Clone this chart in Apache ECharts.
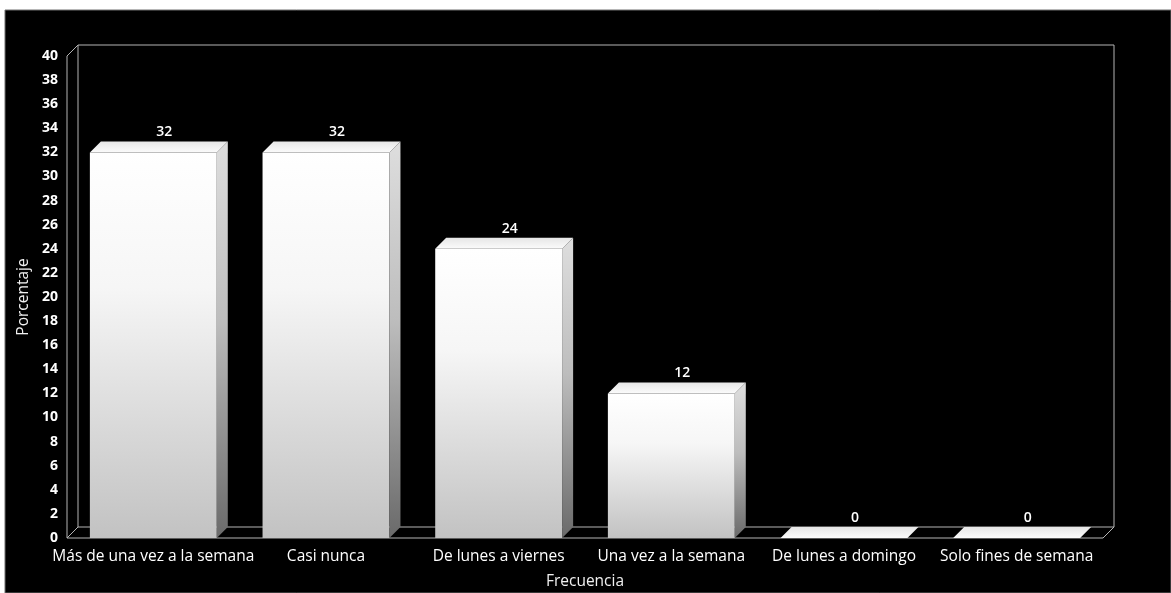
<!DOCTYPE html>
<html>
<head>
<meta charset="utf-8">
<script src="https://cdn.jsdelivr.net/npm/echarts@6/dist/echarts.min.js"></script>
<style>
  html, body { margin: 0; padding: 0; background: #ffffff; }
  #chart { width: 1171px; height: 593px; }
</style>
</head>
<body>
<div id="chart"></div>
<script>
// Frecuencia de uso, en porcentaje
const categories = [
  'Más de una vez a la semana',
  'Casi nunca',
  'De lunes a viernes',
  'Una vez a la semana',
  'De lunes a domingo',
  'Solo fines de semana'
];
const values = [32, 32, 24, 12, 0, 0];
const yMin = 0, yMax = 40, yStep = 2;

const DEPTH = 11;          // oblique depth of the 3D boxes, px
const BAR_RATIO = 0.735;   // front face width relative to the category band
const FONT = '"Open Sans", "DejaVu Sans", sans-serif';
const LINE = '#b4b4b4';

const chart = echarts.init(document.getElementById('chart'));

function lin(x1, y1, x2, y2) {
  return { type: 'line', shape: { x1, y1, x2, y2 }, style: { stroke: LINE, lineWidth: 1 } };
}

// back wall, left wall edge and floor of the 3D box
function renderFrame(params, api) {
  const n = categories.length;
  const p0 = api.coord([0, yMin]);
  const pTop = api.coord([0, yMax]);
  const band = api.size([1, 0])[0];
  const x0 = p0[0] - band / 2;
  const x1 = x0 + band * n;
  const yb = p0[1], yt = pTop[1];
  const d = DEPTH;
  return {
    type: 'group',
    children: [
      // front-left edge and floor front edge
      lin(x0, yt, x0, yb),
      lin(x0, yb, x1, yb),
      // diagonals
      lin(x0, yt, x0 + d, yt - d),
      lin(x0, yb, x0 + d, yb - d),
      lin(x1, yb, x1 + d, yb - d),
      // back wall
      lin(x0 + d, yt - d, x1 + d, yt - d),
      lin(x0 + d, yt - d, x0 + d, yb - d),
      lin(x1 + d, yt - d, x1 + d, yb - d),
      lin(x0 + d, yb - d, x1 + d, yb - d)
    ]
  };
}

function renderBar(params, api) {
  const i = api.value(0), v = api.value(1);
  const base = api.coord([i, 0]);
  const top = api.coord([i, v]);
  const bw = api.size([1, 0])[0] * BAR_RATIO;
  const l = base[0] - bw / 2, r = base[0] + bw / 2;
  const yb = base[1], yt = top[1];
  const d = DEPTH;
  const children = [];
  if (yb - yt > 0.5) {
    children.push({
      type: 'rect',
      shape: { x: l, y: yt, width: bw, height: yb - yt },
      style: {
        fill: new echarts.graphic.LinearGradient(0, 0, 0, 1, [
          { offset: 0, color: '#ffffff' },
          { offset: 0.35, color: '#f6f6f6' },
          { offset: 1, color: '#c2c2c2' }
        ])
      }
    });
    children.push({
      type: 'polygon',
      shape: { points: [[r, yt], [r + d, yt - d], [r + d, yb - d], [r, yb]] },
      style: {
        fill: new echarts.graphic.LinearGradient(0, 0, 0, 1, [
          { offset: 0, color: '#dedede' },
          { offset: 0.45, color: '#bdbdbd' },
          { offset: 1, color: '#6a6a6a' }
        ])
      }
    });
  }
  children.push({
    type: 'polygon',
    shape: { points: [[l, yt], [l + d, yt - d], [r + d, yt - d], [r, yt]] },
    style: {
      fill: new echarts.graphic.LinearGradient(0, 0, 0, 1, [
        { offset: 0, color: '#e6e6e6' },
        { offset: 1, color: '#fbfbfb' }
      ])
    }
  });
  children.push({
    type: 'text',
    style: {
      text: String(v),
      x: base[0] + d,
      y: yt - d - 2,
      align: 'center',
      verticalAlign: 'bottom',
      fill: '#ffffff',
      font: '600 14px ' + FONT
    }
  });
  return { type: 'group', children };
}

chart.setOption({
  backgroundColor: '#ffffff',
  animation: false,
  graphic: [{
    type: 'rect',
    z: -10,
    shape: { x: 5, y: 10, width: 1166, height: 583 },
    style: { fill: '#000000', stroke: '#6e6e6e', lineWidth: 1 }
  }],
  grid: { left: 67, right: 68, top: 56, bottom: 55, containLabel: false, outerBoundsMode: 'none' },
  xAxis: {
    type: 'category',
    data: categories,
    boundaryGap: true,
    name: 'Frecuencia',
    nameLocation: 'middle',
    nameGap: 36,
    nameTextStyle: { color: '#f0f0f0', fontSize: 15.5, fontFamily: FONT },
    axisLine: { show: false },
    axisTick: { show: false },
    axisLabel: { color: '#ffffff', fontSize: 15.5, fontFamily: FONT, margin: 11, interval: 0 },
    splitLine: { show: false }
  },
  yAxis: {
    type: 'value',
    min: yMin,
    max: yMax,
    interval: yStep,
    name: 'Porcentaje',
    nameLocation: 'middle',
    nameGap: 30,
    nameTextStyle: { color: '#f0f0f0', fontSize: 15.5, fontFamily: FONT },
    axisLine: { show: false },
    axisTick: { show: false },
    axisLabel: { color: '#ffffff', fontSize: 14, fontWeight: 'bold', fontFamily: FONT, margin: 9 },
    splitLine: { show: false }
  },
  series: [
    {
      type: 'custom',
      renderItem: renderFrame,
      data: [[0, 0]],
      z: 1,
      silent: true
    },
    {
      type: 'custom',
      renderItem: renderBar,
      data: values.map((v, i) => [i, v]),
      encode: { x: 0, y: 1 },
      z: 2
    }
  ]
});
</script>
</body>
</html>
